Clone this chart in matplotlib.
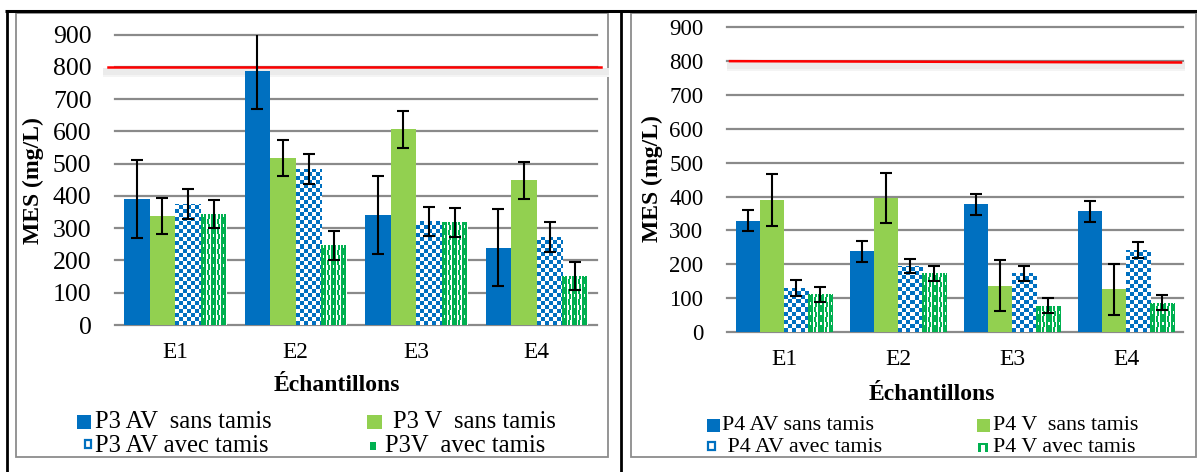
import numpy as np
import matplotlib
matplotlib.use("Agg")
import matplotlib.pyplot as plt
from matplotlib.patches import Rectangle
from matplotlib.lines import Line2D
from matplotlib.colors import to_rgb

plt.rcParams['font.family'] = ['Liberation Serif', 'DejaVu Serif']

# ---------------- data ----------------
categories = ['E1', 'E2', 'E3', 'E4']
threshold = 800
yticks = [0, 100, 200, 300, 400, 500, 600, 700, 800, 900]

p3_av_sans = [390, 788, 341, 240]
p3_av_sans_err = [120, 118, 121, 120]
p3_v_sans = [338, 517, 607, 448]
p3_v_sans_err = [57, 56, 57, 57]
p3_av_avec = [375, 484, 321, 273]
p3_av_avec_err = [47, 46, 46, 46]
p3_v_avec = [345, 247, 318, 152]
p3_v_avec_err = [43, 44, 44, 43]

p4_av_sans = [329, 238, 378, 357]
p4_av_sans_err = [31, 31, 31, 31]
p4_v_sans = [390, 396, 137, 126]
p4_v_sans_err = [76, 75, 76, 75]
p4_av_avec = [130, 195, 173, 242]
p4_av_avec_err = [23, 22, 23, 24]
p4_v_avec = [111, 173, 78, 87]
p4_v_avec_err = [21, 21, 21, 21]

labels_p3 = ['P3 AV  sans tamis', 'P3 V  sans tamis', 'P3 AV avec tamis', 'P3V  avec tamis']
labels_p4 = ['P4 AV sans tamis', 'P4 V  sans tamis', ' P4 AV avec tamis', 'P4 V avec tamis']
xlabel_text = 'Échantillons'
ylabel_text = 'MES (mg/L)'

# ---------------- style ----------------
BLUE = '#0070C0'
LGREEN = '#92D050'
DGREEN = '#00B050'
GRID = '#8a8a8a'
FSB = 17       # bold axis titles

W, H = 1197, 472
fig = plt.figure(figsize=(W / 100, H / 100), dpi=100)


def px_axes(x0, x1, ytop, ybot):
    return fig.add_axes([x0 / W, 1 - ybot / H, (x1 - x0) / W, (ybot - ytop) / H])


blue_tile = np.kron(np.array([[1, 0], [0, 1]]), np.ones((4, 4)))
green_tile = np.zeros((10, 10))
green_tile[:, 0:5] = 1
green_tile[0:5, 6:8] = 1
green_tile[5:10, 7:9] = 1
green_tile[7:10, 2] = 0


def pattern_fill(ax, bars, tile, color):
    rgb = to_rgb(color)
    for b in bars:
        x, y = b.get_x(), b.get_y()
        w, h = b.get_width(), b.get_height()
        px0, py0 = ax.transData.transform((x, y))
        px1, py1 = ax.transData.transform((x + w, y + h))
        nw = max(1, int(round(px1 - px0)))
        nh = max(1, int(round(py1 - py0)))
        reps = (nh // tile.shape[0] + 2, nw // tile.shape[1] + 2)
        mask = np.tile(tile, reps)[:nh, :nw].astype(bool)
        img = np.ones((nh, nw, 3))
        img[mask] = rgb
        im = ax.imshow(img, extent=(x, x + w, y, y + h), origin='lower',
                       interpolation='nearest', aspect='auto', zorder=2.5)
        im.set_clip_path(b)


def panel(ax, series, errs, bw, red_x, red_y, shadow_x, fsy, fsx):
    x = np.arange(len(categories))
    ax.set_xlim(-0.5, len(categories) - 0.5)
    ax.set_ylim(0, 900)
    offs = [-1.5, -0.5, 0.5, 1.5]
    faces = [BLUE, LGREEN, 'white', 'white']
    allbars = []
    for s, o, fc in zip(series, offs, faces):
        bars = ax.bar(x + o * bw, s, bw, color=fc, zorder=2, linewidth=0)
        allbars.append(bars)
    pattern_fill(ax, allbars[2], blue_tile, BLUE)
    pattern_fill(ax, allbars[3], green_tile, DGREEN)
    for s, e, o in zip(series, errs, offs):
        ax.errorbar(x + o * bw, s, yerr=e, fmt='none', ecolor='black',
                    elinewidth=1.5, capsize=4.3, capthick=1.5, zorder=5)
    ax.set_yticks(yticks)
    ax.set_xticks(x)
    ax.set_xticklabels(categories)
    ax.grid(axis='y', color=GRID, linewidth=1.6, zorder=0)
    ax.set_axisbelow(True)
    for gl in ax.get_ygridlines():
        gl.set_clip_on(False)
    for sp in ax.spines.values():
        sp.set_visible(False)
    ax.tick_params(length=0)
    ax.tick_params(axis='y', pad=17, labelsize=fsy)
    ax.tick_params(axis='x', pad=12, labelsize=fsx)
    # threshold line with soft shadow
    yt = ax.get_yaxis_transform()
    ax.fill_between(shadow_x, threshold - 24, threshold - 3, transform=yt,
                    color='#ebebeb', linewidth=0, clip_on=False, zorder=1.5)
    ax.fill_between(shadow_x, threshold - 30, threshold - 24, transform=yt,
                    color='#f4f4f4', linewidth=0, clip_on=False, zorder=1.5)
    ax.plot(red_x, [threshold + d for d in red_y], color='red', lw=1.8,
            transform=yt, clip_on=False, zorder=4)
    ax.set_xlim(-0.5, len(categories) - 0.5)
    ax.set_ylim(0, 900)


# ---------------- left panel ----------------
ax1 = px_axes(115, 597, 34.7, 325)
panel(ax1, [p3_av_sans, p3_v_sans, p3_av_avec, p3_v_avec],
      [p3_av_sans_err, p3_v_sans_err, p3_av_avec_err, p3_v_avec_err],
      0.2117, [-0.0145, 1.008], [0, 0], [-0.025, 1.025], 18.5, 16.8)
ax1.set_ylabel(ylabel_text, fontsize=FSB, fontweight='bold')
ax1.yaxis.set_label_coords(-0.170, 0.496)
ax1.yaxis.label.set_va('center')
ax1.set_xlabel(xlabel_text, fontsize=FSB, fontweight='bold')
ax1.xaxis.set_label_coords(0.461, -0.210)
ax1.xaxis.label.set_va('center')

# ---------------- right panel ----------------
ax2 = px_axes(727, 1183, 27.3, 332)
panel(ax2, [p4_av_sans, p4_v_sans, p4_av_avec, p4_v_avec],
      [p4_av_sans_err, p4_v_sans_err, p4_av_avec_err, p4_v_avec_err],
      0.2127, [0.0066, 0.9956], [0, -4], [0.0, 1.004], 16.5, 17)
ax2.set_ylabel(ylabel_text, fontsize=FSB, fontweight='bold')
ax2.yaxis.set_label_coords(-0.164, 0.502)
ax2.yaxis.label.set_va('center')
ax2.set_xlabel(xlabel_text, fontsize=FSB, fontweight='bold')
ax2.xaxis.set_label_coords(0.45, -0.2035)
ax2.xaxis.label.set_va('center')


# ---------------- frames ----------------
def fline(x0, y0, x1, y1, color, lw):
    fig.add_artist(Line2D([x0 / W, x1 / W], [1 - y0 / H, 1 - y1 / H],
                          transform=fig.transFigure, color=color, lw=lw,
                          solid_capstyle='butt'))


def frect(x0, y0, x1, y1, **kw):
    fig.add_artist(Rectangle((x0 / W, 1 - y1 / H), (x1 - x0) / W, (y1 - y0) / H,
                             transform=fig.transFigure, **kw))


for (x0, x1) in [(16, 608), (631, 1196)]:
    frect(x0, 13, x1, 457, facecolor='none', edgecolor='#8c8c8c', lw=1.3, zorder=0)
fline(5, 11, 1197, 11, 'black', 2.2)
fline(7, 11, 7, 472, 'black', 2.0)
fline(621, 11, 621, 472, 'black', 2.0)


# ---------------- legends (manual) ----------------
def legend(labels, sq, small, txt, fs):
    for lab, (tx, ty) in zip(labels, txt):
        fig.text(tx / W, 1 - ty / H, lab, fontsize=fs, va='center', ha='left')
    for (x0, x1, y0, y1, fc) in sq:
        frect(x0, y0, x1, y1, facecolor=fc, edgecolor='none')
    for (x0, x1, y0, y1, kind) in small:
        if kind == 'blue':
            frect(x0, y0, x1, y1, facecolor='white', edgecolor=BLUE, lw=1.6)
        else:
            frect(x0, y0, x1, y0 + 2, facecolor=DGREEN, edgecolor='none')
            frect(x0, y0, x0 + 3, y1, facecolor=DGREEN, edgecolor='none')
            frect(x1 - 3, y0, x1, y1, facecolor=DGREEN, edgecolor='none')


legend(labels_p3,
       [(77, 91, 415, 429, BLUE), (367, 382, 415, 429, LGREEN)],
       [(85, 91, 440, 448, 'blue'), (370, 376, 442, 450, 'green')],
       [(95, 422), (393, 422), (95, 446), (385, 446)], 17.7)
legend(labels_p4,
       [(707, 720, 419, 432, BLUE), (977, 990, 419, 432, LGREEN)],
       [(708, 715, 442, 450, 'blue'), (978, 988, 443, 452, 'green')],
       [(722, 425), (993, 425), (722, 447), (993, 447)], 15.8)

fig.savefig('out.png', dpi=100, facecolor='white')
